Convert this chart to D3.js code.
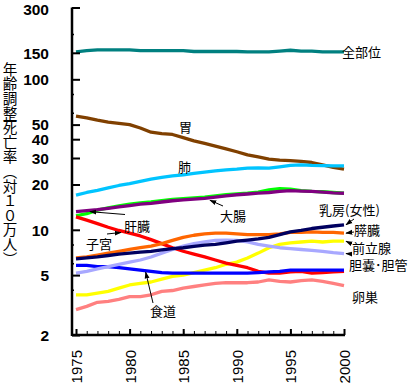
<!DOCTYPE html>
<html><head><meta charset="utf-8">
<script src="https://cdn.jsdelivr.net/npm/d3@7"></script>
<style>
html,body{margin:0;padding:0;background:#fff;}
svg{display:block;}
.jp{font-family:"Noto Sans CJK JP","Noto Sans CJK SC",sans-serif;}
</style></head>
<body>
<svg id="chart" width="413" height="386"></svg>
<script>
// ---- data ----
const years = [1975,1976,1977,1978,1979,1980,1981,1982,1983,1984,1985,1986,1987,1988,1989,1990,1991,1992,1993,1994,1995,1996,1997,1998,1999,2000];
const allSites   = [152,155,157,157,157,157,155,155,155,155,155,153,153,153,153,153,152,152,152,154,156,154,154,152,152,152];
const stomach    = [57,55.5,53.5,52,51,50,47.5,44.5,43.5,43,41,39,37.5,36,34.5,33,31.5,30.5,29.5,29,28.8,28.5,28,27,26,25.3];
const lung       = [17,17.7,18.3,19,19.7,20.3,21,21.7,22.3,22.8,23.2,23.7,24.2,24.6,25,25.3,25.7,25.8,25.7,26.2,26.8,27,26.8,26.7,26.6,26.6];
const liver      = [12.4,12.8,13.5,14,14.4,14.8,15.1,15.3,15.6,15.9,16.1,16.3,16.5,16.8,17.1,17.3,17.5,17.8,18.4,18.8,18.6,18.2,18,17.9,17.7,17.5];
const colon      = [13.2,13.4,13.6,13.9,14.2,14.5,14.8,15,15.3,15.6,15.8,16,16.2,16.5,16.8,17.1,17.3,17.5,17.7,18,18.2,18.1,18,17.8,17.6,17.5];
const uterus     = [12.2,11.6,11,10.4,9.9,9.5,9.1,8.6,8.1,7.6,7.2,6.9,6.6,6.3,6,5.8,5.6,5.3,5.15,5.15,5.25,5.3,5.15,5.2,5.25,5.3];
const pancreas   = [6.5,6.6,6.8,7,7.2,7.4,7.6,7.8,8.1,8.5,8.9,9.2,9.4,9.5,9.5,9.4,9.3,9.3,9.3,9.4,9.6,9.6,9.7,9.6,9.6,9.5];
const breast     = [6.4,6.5,6.6,6.75,6.9,7,7.1,7.2,7.35,7.5,7.6,7.75,7.9,8,8.2,8.4,8.55,8.7,8.9,9.3,9.7,9.9,10.2,10.4,10.6,10.8];
const gallbladder= [5.15,5.3,5.5,5.7,5.9,6.1,6.3,6.6,7,7.4,7.8,8.1,8.3,8.5,8.55,8.5,8.3,8,7.8,7.6,7.5,7.4,7.3,7.2,7.05,6.95];
const esophagus  = [5.8,5.8,5.7,5.7,5.6,5.5,5.4,5.3,5.2,5.15,5.15,5.15,5.15,5.15,5.15,5.15,5.15,5.2,5.25,5.3,5.4,5.4,5.4,5.4,5.4,5.4];
const prostate   = [3.7,3.7,3.8,3.9,4.1,4.3,4.4,4.5,4.7,4.9,5,5.2,5.4,5.6,5.9,6.1,6.5,7,7.6,8,8.2,8.3,8.4,8.3,8.4,8.4];
const ovary      = [2.95,3.1,3.3,3.35,3.45,3.6,3.6,3.7,3.9,3.95,4.1,4.2,4.3,4.4,4.45,4.45,4.45,4.5,4.65,4.55,4.5,4.6,4.65,4.55,4.4,4.25];

const yTickValues = [300,150,100,50,40,30,20,10,5,2];
const yMinorTicks = [200,80,60,8,6,4];
const xMajorTicks = [1975,1980,1985,1990,1995,2000];
const yTitle = "年齢調整死亡率（対１０万人）";

// series: name, values, colour (draw order)
const series = [
  {name:"全部位", values:allSites, color:"#008080"},
  {name:"胃", values:stomach, color:"#804000"},
  {name:"肺", values:lung, color:"#00C4FF"},
  {name:"肝臓", values:liver, color:"#00FF00"},
  {name:"大腸", values:colon, color:"#800080"},
  {name:"卵巣", values:ovary, color:"#FF8080"},
  {name:"前立腺", values:prostate, color:"#FFFF00"},
  {name:"子宮", values:uterus, color:"#FF0000"},
  {name:"食道", values:esophagus, color:"#0000FF"},
  {name:"胆嚢･胆管", values:gallbladder, color:"#A8A8FF"},
  {name:"膵臓", values:pancreas, color:"#FF6600"},
  {name:"乳房(女性)", values:breast, color:"#000060"}
];

// ---- layout ----
const svg = d3.select("#chart");
const x = d3.scaleLinear().domain([1975,2000]).range([76,344]);
const y = d3.scaleLog().domain([2,300]).range([335,7.5]);
const axisX = 72;

// lines
const line = d3.line().x((d,i)=>x(years[i])).y(d=>y(d));
svg.append("g").selectAll("path").data(series).join("path")
  .attr("d", d=>line(d.values))
  .attr("fill","none").attr("stroke", d=>d.color)
  .attr("stroke-width",3.3).attr("stroke-linejoin","round");

// y axis
const yAxis = d3.axisLeft(y).tickValues(yTickValues).tickFormat(d3.format("d"))
  .tickSizeInner(-8).tickSizeOuter(0).tickPadding(23);
const gy = svg.append("g").attr("transform",`translate(${axisX},0)`).call(yAxis);
gy.select(".domain").remove();
gy.selectAll(".tick line").attr("stroke","#000").attr("stroke-width",2);
gy.selectAll(".tick text").attr("font-family","'Liberation Sans',Arial,sans-serif")
  .attr("font-weight","bold").attr("font-size","15.5px").attr("fill","#000")
  .attr("dy", d=> d===300 ? "0.42em" : "0.34em");
const yMinor = d3.axisLeft(y).tickValues(yMinorTicks).tickFormat("").tickSizeInner(-2).tickSizeOuter(0);
const gym = svg.append("g").attr("transform",`translate(${axisX},0)`).call(yMinor);
gym.select(".domain").remove();
gym.selectAll(".tick line").attr("stroke","#000").attr("stroke-width",1.5);

// x axis
const xMinor = d3.axisBottom(x).tickValues(years).tickFormat("").tickSizeInner(-4).tickSizeOuter(0);
const gxm = svg.append("g").attr("transform",`translate(0,${y(2)})`).call(xMinor);
gxm.select(".domain").remove();
gxm.selectAll(".tick line").attr("stroke","#000").attr("stroke-width",1);
const xMajor = d3.axisBottom(x).tickValues(xMajorTicks).tickFormat(d3.format("d")).tickSizeInner(-6).tickSizeOuter(0);
const gx = svg.append("g").attr("transform",`translate(0,${y(2)})`).call(xMajor);
gx.select(".domain").remove();
gx.selectAll(".tick line").attr("stroke","#000").attr("stroke-width",2);
gx.selectAll(".tick text")
  .attr("font-family","'Liberation Sans',Arial,sans-serif").attr("font-size","15px").attr("fill","#000")
  .attr("transform","rotate(-90)").attr("text-anchor","end")
  .attr("x",-15).attr("y",0).attr("dy","0.36em");

// axis lines
svg.append("line").attr("x1",axisX).attr("x2",axisX).attr("y1",y(300)).attr("y2",y(2)+1)
  .attr("stroke","#000").attr("stroke-width",2.5);
svg.append("line").attr("x1",axisX).attr("x2",x(2000)+1).attr("y1",y(2)).attr("y2",y(2))
  .attr("stroke","#000").attr("stroke-width",2.5);

// y title (vertical)
svg.append("text").attr("class","jp").attr("x",10).attr("y",62)
  .style("writing-mode","vertical-rl").attr("font-size","14.6px").attr("fill","#000")
  .text(yTitle);

// labels
const labels = [
  {t:"全部位", x:342, y:57},
  {t:"胃", x:179, y:132},
  {t:"肺", x:178, y:172},
  {t:"肝臓", x:124, y:231},
  {t:"子宮", x:86, y:249},
  {t:"大腸", x:220, y:221},
  {t:"食道", x:150, y:316},
  {t:"乳房(女性)", x:319, y:215},
  {t:"膵臓", x:354, y:235},
  {t:"前立腺", x:352, y:252.5},
  {t:"胆嚢･胆管", x:349, y:270},
  {t:"卵巣", x:352, y:302}
];
svg.append("g").selectAll("text").data(labels).join("text").attr("class","jp")
  .attr("x",d=>d.x).attr("y",d=>d.y).attr("font-size","13px").attr("fill","#000").text(d=>d.t);

// arrows
const defs = svg.append("defs");
defs.append("marker").attr("id","ah").attr("viewBox","0 0 10 10").attr("refX",9).attr("refY",5)
  .attr("markerWidth",7).attr("markerHeight",7).attr("orient","auto-start-reverse")
  .append("path").attr("d","M0,1.5 L10,5 L0,8.5 Z").attr("fill","#000");
const arrowDefs = [
  {x1:125,y1:214.5, year:1976.3, val:12.9, dx:0, dy:-1.5},
  {x1:107,y1:234, year:1979.2, val:uterus[4], dx:0, dy:2},
  {x1:223,y1:206, year:1987.5, val:colon[12], dx:0, dy:2},
  {x1:153,y1:303, year:1981.5, val:esophagus[6], dx:0, dy:2},
  {x1:354,y1:219, year:2000, val:breast[25], dx:2, dy:0},
  {x1:354,y1:232, year:2000, val:pancreas[25], dx:2, dy:0},
  {x1:352,y1:244, year:2000, val:prostate[25], dx:2, dy:0},
  {x1:352,y1:254, year:2000, val:gallbladder[25], dx:2, dy:0}
];
svg.append("g").selectAll("line").data(arrowDefs).join("line")
  .attr("x1",d=>d.x1).attr("y1",d=>d.y1)
  .attr("x2",d=>x(d.year)+d.dx).attr("y2",d=>y(d.val)+d.dy)
  .attr("stroke","#000").attr("stroke-width",1).attr("marker-end","url(#ah)");
</script>
</body></html>
